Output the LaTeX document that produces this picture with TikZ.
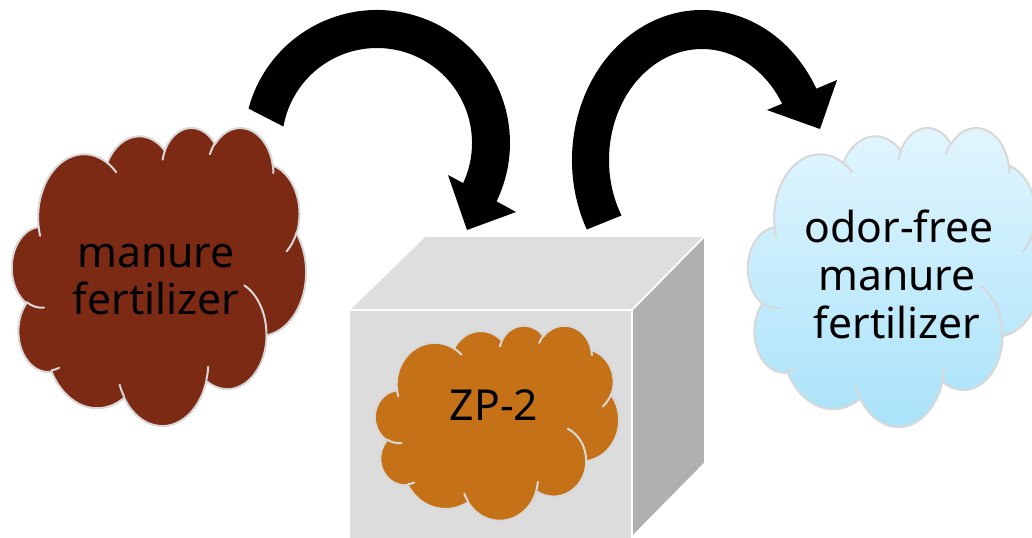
\documentclass[tikz,border=0pt]{standalone}
\usepackage{fontspec}
\setmainfont{Noto Sans}
\usetikzlibrary{calc}
\definecolor{brownC}{RGB}{124,42,19}
\definecolor{orangeC}{RGB}{196,113,23}
\definecolor{blueTop}{RGB}{226,246,253}
\definecolor{blueBot}{RGB}{168,226,250}
\definecolor{cloudEdge}{RGB}{216,216,216}
\definecolor{faceFront}{RGB}{220,220,220}
\definecolor{faceTop}{RGB}{222,222,222}
\definecolor{faceSide}{RGB}{176,176,176}
% one arc of the cloud, OOXML style: wR hR stAng swAng (visual angles)
\newcommand\carc[4]{arc[x radius=#1, y radius=#2, start angle={atan2((#1)*sin(#3),(#2)*cos(#3))}, delta angle={mod(atan2((#1)*sin((#3)+(#4)),(#2)*cos((#3)+(#4)))-atan2((#1)*sin(#3),(#2)*cos(#3))+720,360)}]}
\newcommand\cloudoutline{(3.900,14.370) \carc{6.753}{9.190}{-190.4875}{123.7805} \carc{5.333}{7.267}{-144.1024}{89.9452} \carc{4.365}{5.945}{-145.8079}{99.7230} \carc{4.857}{6.595}{-130.9861}{117.2417} \carc{5.333}{7.273}{-78.7089}{109.0269} \carc{6.775}{9.220}{-46.2673}{130.2690} \carc{5.785}{7.867}{0.6250}{114.0333} \carc{6.752}{9.215}{22.4516}{115.1726} \carc{7.720}{10.543}{66.2426}{75.7110} \carc{4.360}{5.918}{-274.9421}{146.7356} \carc{4.345}{5.945}{-246.8285}{152.5189} -- cycle}
\newcommand\cloudinner{(4.693,26.177) \carc{4.345}{5.945}{86.742}{26.4295}
 (6.928,34.899) \carc{4.360}{5.918}{73.6105}{11.4475}
 (16.478,39.090) \carc{6.752}{9.215}{137.6242}{14.0811}
 (28.827,34.751) \carc{6.752}{9.215}{6.4533}{15.9984}
 (34.129,22.954) \carc{5.785}{7.867}{-70.2924}{70.9174}
 (41.798,15.354) \carc{5.333}{7.273}{30.3180}{27.7515}
 (38.324,5.426) \carc{4.857}{6.595}{-13.7443}{14.8589}
 (29.078,3.952) \carc{4.857}{6.595}{-149.1815}{18.1954}
 (22.141,4.720) \carc{4.365}{5.945}{-163.4943}{17.6864}
 (14.000,5.192) \carc{6.753}{9.190}{-66.7070}{12.3194}
 (4.127,15.789) \carc{6.753}{9.190}{157.6544}{11.8605}}
\begin{document}
\begin{tikzpicture}[x=0.75pt,y=-0.75pt,
  cloudbody/.style={draw=cloudEdge, line width=1.5pt, line join=round},
  cloudline/.style={draw=cloudEdge, line width=1.5pt, line cap=round},
  face/.style={draw=white, line width=1.2pt, line join=round},
  bigarrow/.style={fill=black},
  lbl/.style={font=\fontsize{32}{38}\selectfont, text=black, anchor=base, inner sep=0pt}]
\useasboundingbox (0,0) rectangle (1032,537);
\fill[white] (0,0) rectangle (1032,537);

% left cloud
\begin{scope}[shift={(12,127)}, xscale=6.8056, yscale=6.8981]
  \filldraw[cloudbody, fill=brownC] \cloudoutline;
  \draw[cloudline] \cloudinner;
\end{scope}
\node[lbl] (m1) at (156,267) {manure};
\node[lbl] (m2) at (156,314) {fertilizer};

% cube
\filldraw[face, fill=faceTop] (349,310) -- (425,236) -- (705,236) -- (632,310) -- cycle;
\filldraw[face, fill=faceSide] (632,310) -- (705,236) -- (705,463) -- (632,537) -- cycle;
\filldraw[face, fill=faceFront] (349,310) rectangle (632,545);

% middle cloud
\begin{scope}[shift={(375,325)}, xscale=5.6481, yscale=4.5139]
  \filldraw[cloudbody, fill=orangeC] \cloudoutline;
  \draw[cloudline] \cloudinner;
\end{scope}
\node[lbl] (zp) at (494,420) {ZP-2};

% right cloud
\begin{scope}[shift={(748,127)}, xscale=6.8056, yscale=6.9213]
  \draw[cloudbody, top color=blueTop, bottom color=blueBot] \cloudoutline;
  \draw[cloudline] \cloudinner;
\end{scope}
\node[lbl] (o1) at (899,242) {odor-free};
\node[lbl] (o2) at (897,290) {manure};
\node[lbl] (o3) at (897,338) {fertilizer};

% left curved arrow
\coordinate (LC) at (377,143);
\fill[bigarrow] ($(LC)+(195:133)$) arc[start angle=195, end angle=386, radius=133]
  -- (516,212) -- (467,230) -- (448,175)
  -- ($(LC)+(384.9:95)$) arc[start angle=384.9, end angle=190, radius=95] -- cycle;

% right curved arrow
\coordinate (RC) at (702,160);
\fill[bigarrow] ($(RC)+({130*cos(152.4)},{150*sin(152.4)})$)
  arc[start angle=152.4, end angle=331.6, x radius=130, y radius=150]
  -- (837,80) -- (820,129) -- (767,110)
  -- ($(RC)+({93*cos(329.5)},{111*sin(329.5)})$)
  arc[start angle=329.5, end angle=150, x radius=93, y radius=111] -- cycle;
\end{tikzpicture}
\end{document}
